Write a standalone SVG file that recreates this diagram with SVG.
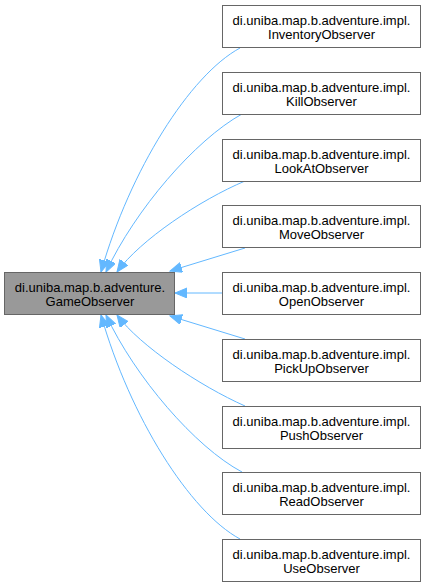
<svg xmlns="http://www.w3.org/2000/svg" width="425" height="587" viewBox="0 0 425 587">
<style>
.n rect{fill:#ffffff;stroke:#666666;stroke-width:1}
.base rect{fill:#999999;stroke:#666666;stroke-width:1}
text{font-family:"Liberation Sans",Arial,sans-serif;font-size:13px;fill:#000000;text-anchor:middle}
.e path{fill:none;stroke:#63b8ff;stroke-width:1;marker-end:url(#ah)}
</style>
<defs>
<marker id="ah" markerUnits="userSpaceOnUse" markerWidth="14" markerHeight="12" refX="12" refY="5" orient="auto">
<path d="M0,0 L12,5 L0,10 z" fill="#63b8ff" stroke="#63b8ff" stroke-width="1"/>
</marker>
</defs>
<rect width="425" height="587" fill="#ffffff"/>
<g id="edges" class="e">
<path d="M240,48 C190,75 130,170 101,272"/>
<path d="M242,114 C195,140 135,210 106,272"/>
<path d="M245,181 C200,200 140,240 117,272"/>
<path d="M245,248 L170,271"/>
<path d="M222,293 L175,293"/>
<path d="M245,339 L170,316"/>
<path d="M245,406 C200,386 140,346 117,315"/>
<path d="M242,472 C195,447 135,377 106,315"/>
<path d="M240,539 C190,512 130,417 101,315"/>
</g>
<g id="GameObserver" class="base">
<rect x="4.5" y="272.5" width="170" height="42"/>
<text x="90" y="292">di.uniba.map.b.adventure.</text>
<text x="90" y="306">GameObserver</text>
</g>
<g id="InventoryObserver" class="n">
<rect x="222.5" y="5.5" width="198" height="42"/>
<text x="321.5" y="25">di.uniba.map.b.adventure.impl.</text>
<text x="321.5" y="39">InventoryObserver</text>
</g>
<g id="KillObserver" class="n">
<rect x="222.5" y="72.5" width="198" height="42"/>
<text x="321.5" y="92">di.uniba.map.b.adventure.impl.</text>
<text x="321.5" y="106">KillObserver</text>
</g>
<g id="LookAtObserver" class="n">
<rect x="222.5" y="139.5" width="198" height="42"/>
<text x="321.5" y="159">di.uniba.map.b.adventure.impl.</text>
<text x="321.5" y="173">LookAtObserver</text>
</g>
<g id="MoveObserver" class="n">
<rect x="222.5" y="205.5" width="198" height="42"/>
<text x="321.5" y="225">di.uniba.map.b.adventure.impl.</text>
<text x="321.5" y="239">MoveObserver</text>
</g>
<g id="OpenObserver" class="n">
<rect x="222.5" y="272.5" width="198" height="42"/>
<text x="321.5" y="292">di.uniba.map.b.adventure.impl.</text>
<text x="321.5" y="306">OpenObserver</text>
</g>
<g id="PickUpObserver" class="n">
<rect x="222.5" y="339.5" width="198" height="42"/>
<text x="321.5" y="359">di.uniba.map.b.adventure.impl.</text>
<text x="321.5" y="373">PickUpObserver</text>
</g>
<g id="PushObserver" class="n">
<rect x="222.5" y="406.5" width="198" height="42"/>
<text x="321.5" y="426">di.uniba.map.b.adventure.impl.</text>
<text x="321.5" y="440">PushObserver</text>
</g>
<g id="ReadObserver" class="n">
<rect x="222.5" y="472.5" width="198" height="42"/>
<text x="321.5" y="492">di.uniba.map.b.adventure.impl.</text>
<text x="321.5" y="506">ReadObserver</text>
</g>
<g id="UseObserver" class="n">
<rect x="222.5" y="539.5" width="198" height="42"/>
<text x="321.5" y="559">di.uniba.map.b.adventure.impl.</text>
<text x="321.5" y="573">UseObserver</text>
</g>
</svg>
